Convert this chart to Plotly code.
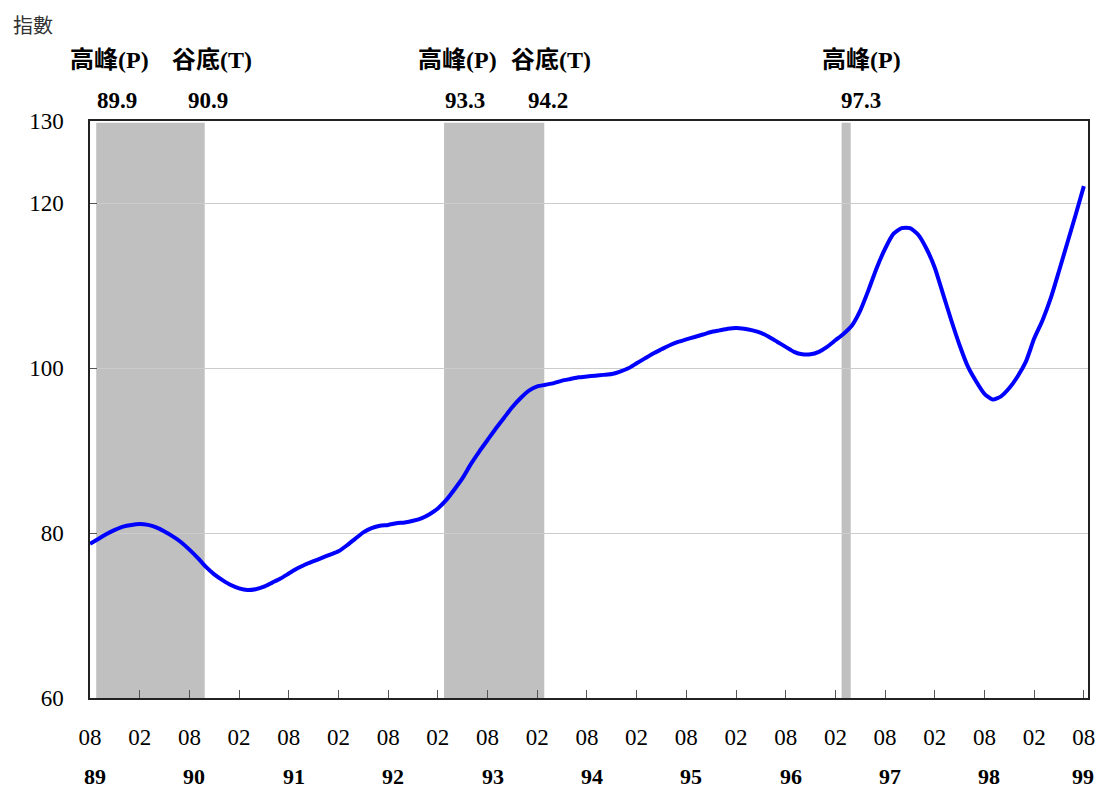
import plotly.graph_objects as go

# ---- data ----
start_year, start_month = 89, 8   # ROC 89/08
index_values = [
    78.7, 79.3, 79.9, 80.4, 80.8, 81.0, 81.1, 81.0, 80.7, 80.2, 79.6, 78.9,
    78.0, 77.0, 75.9, 75.0, 74.3, 73.7, 73.3, 73.1, 73.2, 73.5, 74.0, 74.5,
    75.1, 75.7, 76.2, 76.6, 77.0, 77.4, 77.8, 78.5, 79.3, 80.1, 80.6, 80.9,
    81.0, 81.2, 81.3, 81.5, 81.8, 82.3, 83.0, 84.0, 85.3, 86.7, 88.4, 89.9,
    91.3, 92.7, 94.0, 95.3, 96.4, 97.3, 97.8, 98.0, 98.2, 98.5, 98.7, 98.9,
    99.0, 99.1, 99.2, 99.3, 99.6, 100.0, 100.6, 101.2, 101.8, 102.3, 102.8, 103.2,
    103.5, 103.8, 104.1, 104.4, 104.6, 104.8, 104.9, 104.8, 104.6, 104.3, 103.8, 103.2,
    102.6, 102.0, 101.7, 101.7, 102.0, 102.6, 103.4, 104.2, 105.2, 107.0, 109.5, 112.2,
    114.5, 116.3, 117.0, 117.0, 116.2, 114.5, 112.2, 109.0, 105.8, 102.8, 100.2, 98.4,
    96.9, 96.2, 96.6, 97.6, 99.0, 100.8, 103.6, 105.8, 108.5, 111.8, 115.2, 118.6,
    122.1,
]
tick_labels = ["08", "02"] * 10 + ["08"]
year_labels = ["89", "90", "91", "92", "93", "94", "95", "96", "97", "98", "99"]
peak_labels = ["89.9", "93.3", "97.3"]
trough_labels = ["90.9", "94.2", None]
y_ticks = [60, 80, 100, 120, 130]


def month_index(label):
    y, m = label.split(".")
    return (int(y) - start_year) * 12 + int(m) - start_month


x_vals = list(range(len(index_values)))
tick_vals = list(range(0, len(index_values), 6))
year_vals = list(range(0, len(index_values), 12))

fig = go.Figure()
fig.add_trace(go.Scatter(
    x=x_vals, y=index_values, mode="lines",
    line=dict(color="#0000FF", width=4, shape="spline", smoothing=0.6),
    hoverinfo="skip", showlegend=False,
))

serif = "Liberation Serif, Times New Roman, serif"
cjk = "Liberation Serif, Noto Sans CJK TC, sans-serif"


def top_label(x, text, shift, fam, size):
    fig.add_annotation(x=x, y=1, xref="x", yref="paper", yanchor="middle",
                       yshift=shift, text=f"<b>{text}</b>", showarrow=False,
                       font=dict(family=fam, size=size, color="black"))


# recession shading + top labels
for pk, tr in zip(peak_labels, trough_labels):
    p = month_index(pk)
    t = month_index(tr) if tr else p
    fig.add_shape(type="rect", xref="x", yref="y", x0=p - 0.25, x1=t + 0.85,
                  y0=60, y1=129.8, fillcolor="#C0C0C0", line_width=0, layer="below")
    if tr:
        top_label(p + 1.4, "高峰(P)", 61, cjk, 24)
        top_label(p + 2.3, pk, 21, serif, 23)
        top_label(t + 1.7, "谷底(T)", 61, cjk, 24)
        top_label(t + 1.3, tr, 21, serif, 23)
    else:
        top_label(p + 2.2, "高峰(P)", 61, cjk, 24)
        top_label(p + 2.1, pk, 21, serif, 23)

# year labels under the month ticks
for i, (xv, yl) in enumerate(zip(year_vals, year_labels)):
    last = i == len(year_labels) - 1
    fig.add_annotation(x=xv, y=0, xref="x", yref="paper", yanchor="middle",
                       xshift=-1 if last else 5, yshift=-78,
                       text=f"<b>{yl}</b>", showarrow=False,
                       font=dict(family=serif, size=22, color="black"))

# y-axis title at top-left
fig.add_annotation(x=0, y=1, xref="paper", yref="paper", xanchor="left",
                   yanchor="middle", xshift=-79, yshift=97, text="指數",
                   showarrow=False,
                   font=dict(family="Noto Sans CJK TC, sans-serif", size=20, color="#333333"))

fig.update_layout(
    width=1095, height=786,
    margin=dict(l=82, r=15, t=113, b=96),
    paper_bgcolor="white", plot_bgcolor="white",
    xaxis=dict(
        range=[0, 120.5], tickmode="array", tickvals=tick_vals, ticktext=tick_labels,
        ticks="inside", ticklen=8, tickcolor="#555555", tickwidth=1,
        showgrid=False, zeroline=False, automargin=False,
        showline=True, linecolor="#222222", linewidth=1.5, mirror=True,
        tickfont=dict(family=serif, size=23, color="black"),
        ticklabelstandoff=18,
    ),
    yaxis=dict(
        range=[60, 130], tickmode="array", tickvals=y_ticks,
        ticktext=[str(v) for v in y_ticks],
        ticks="inside", ticklen=7, tickcolor="#555555", tickwidth=1,
        showgrid=True, gridcolor="#CCCCCC", gridwidth=1, zeroline=False,
        automargin=False,
        showline=True, linecolor="#222222", linewidth=1.5, mirror=True,
        tickfont=dict(family=serif, size=23, color="black"),
        ticklabelstandoff=20,
    ),
)

fig.write_html("out.html")
